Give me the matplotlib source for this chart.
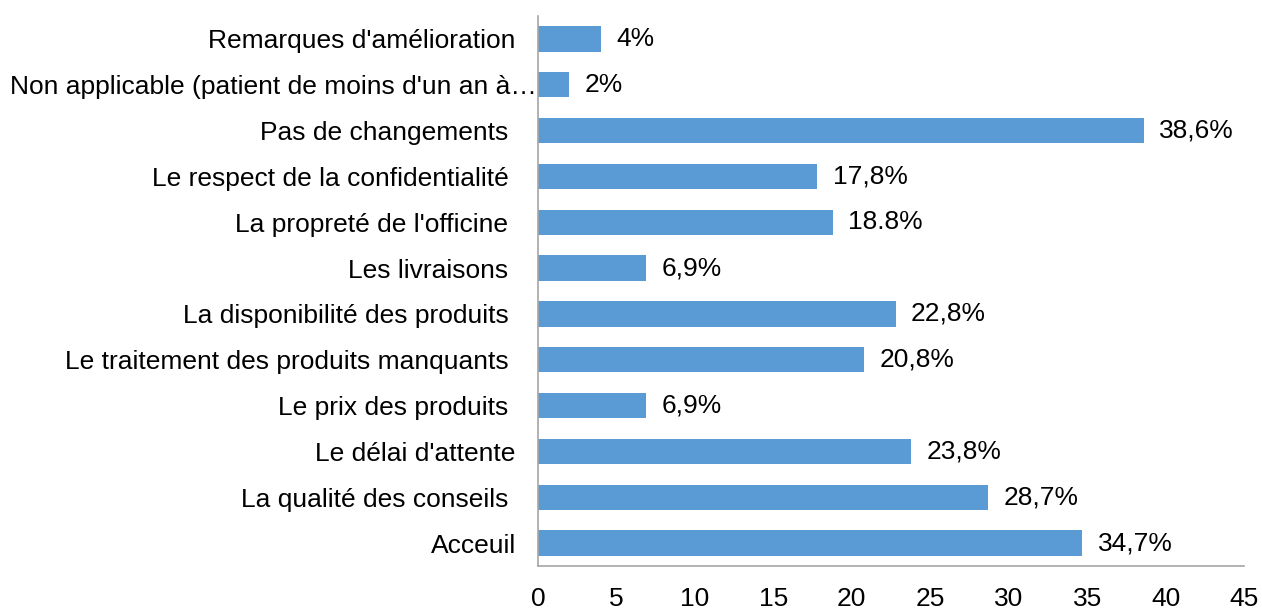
import matplotlib
matplotlib.use("Agg")
import matplotlib.pyplot as plt
import matplotlib.transforms as mtransforms

plt.rcParams['font.family'] = ['Liberation Sans', 'DejaVu Sans']

# categories from top to bottom
categories = [
    "Remarques d'amélioration",
    "Non applicable (patient de moins d'un an à…",
    "Pas de changements ",
    "Le respect de la confidentialité ",
    "La propreté de l'officine ",
    "Les livraisons ",
    "La disponibilité des produits ",
    "Le traitement des produits manquants ",
    "Le prix des produits ",
    "Le délai d'attente",
    "La qualité des conseils ",
    "Acceuil",
]
values = [4, 2, 38.6, 17.8, 18.8, 6.9, 22.8, 20.8, 6.9, 23.8, 28.7, 34.7]
value_labels = ["4%", "2%", "38,6%", "17,8%", "18.8%", "6,9%",
                "22,8%", "20,8%", "6,9%", "23,8%", "28,7%", "34,7%"]
xticks = [0, 5, 10, 15, 20, 25, 30, 35, 40, 45]

fig = plt.figure(figsize=(12.62, 6.08), dpi=100)
ax = fig.add_axes([538 / 1262, 1 - 566 / 608, (1244 - 538) / 1262, 550 / 608])

ypos = list(range(len(categories)))[::-1]
ax.barh(ypos, values, height=0.55, color='#5B9BD5')

for y, v, lab in zip(ypos, values, value_labels):
    ax.annotate(lab, (v, y), xytext=(11, 0), textcoords='offset points',
                va='center', ha='left', fontsize=19)

ax.set_xlim(0, 45)
ax.set_ylim(-0.5, len(categories) - 0.5)
ax.set_xticks(xticks)
ax.set_xticklabels([str(t) for t in xticks], fontsize=19)
ax.set_yticks(ypos)
ax.set_yticklabels(categories, fontsize=19)
ax.tick_params(axis='both', length=0)
ax.tick_params(axis='x', pad=15)
ax.tick_params(axis='y', pad=16)

# the truncated label sits right against the axis
lbl = ax.get_yticklabels()[1]
lbl.set_transform(lbl.get_transform() + mtransforms.ScaledTranslation(15 / 72, 0, fig.dpi_scale_trans))

for s in ['top', 'right']:
    ax.spines[s].set_visible(False)
for s in ['left', 'bottom']:
    ax.spines[s].set_color('#a6a6a6')
    ax.spines[s].set_linewidth(1.2)

fig.savefig("out.png", dpi=100)
